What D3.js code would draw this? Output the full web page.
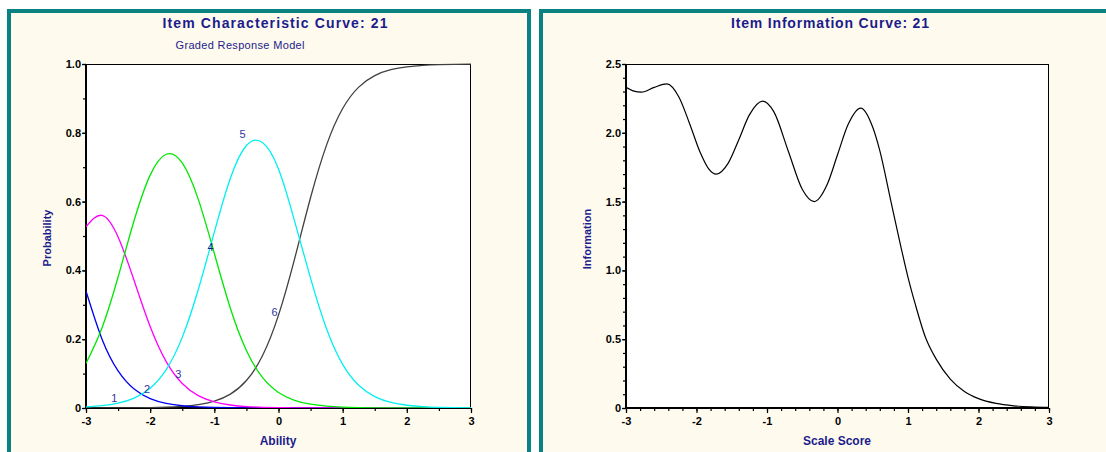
<!DOCTYPE html>
<html>
<head>
<meta charset="utf-8">
<script src="https://cdn.jsdelivr.net/npm/d3@7.9.0/dist/d3.min.js"></script>
<style>
  body { margin: 0; background: #fff; }
  svg { display: block; font-family: "Liberation Sans", Arial, sans-serif; }
</style>
</head>
<body>
<svg id="chart" width="1106" height="452"></svg>
<script>
// ── Data ──────────────────────────────────────────────────────────────────────

const abilityGrid = [-3, -2.75, -2.5, -2.25, -2, -1.75, -1.5, -1.25, -1, -0.75, -0.5, -0.25,
  0, 0.25, 0.5, 0.75, 1, 1.25, 1.5, 1.75, 2, 2.25, 2.5, 2.75, 3];

const probCat1 = [0.340, 0.200, 0.108, 0.0553, 0.0275, 0.0135, 0.0066, 0.0032, 0.0016, 0.0008,
  0.0004, 0.0002, 0.0001, 0, 0, 0, 0, 0, 0, 0, 0, 0, 0, 0, 0];
const probCat3 = [0.527, 0.560, 0.497, 0.3705, 0.2368, 0.1347, 0.0711, 0.0360, 0.0178, 0.0087,
  0.0042, 0.0021, 0.0010, 0.0005, 0.0002, 0.0001, 0.0001, 0, 0, 0, 0, 0, 0, 0, 0];
const probCat4 = [0.1295, 0.2333, 0.3807, 0.5449, 0.6770, 0.7377, 0.7123, 0.6065, 0.4495, 0.2899,
  0.1669, 0.0889, 0.0452, 0.0225, 0.0110, 0.0054, 0.0026, 0.0013, 0.0006, 0.0003, 0.0001, 0.0001, 0, 0, 0];
const probCat5 = [0.0034, 0.0069, 0.0142, 0.0288, 0.0576, 0.1118, 0.2053, 0.3445, 0.5112, 0.668,
  0.763, 0.772, 0.695, 0.5441, 0.3769, 0.2296, 0.1268, 0.0659, 0.0331, 0.0163, 0.0080, 0.0039, 0.0019, 0.0009, 0.0004];
const probCat6 = [0.0001, 0.0001, 0.0003, 0.0005, 0.0011, 0.0023, 0.0048, 0.0098, 0.0199, 0.0403,
  0.0798, 0.1519, 0.2699, 0.4329, 0.6118, 0.7649, 0.8705, 0.9328, 0.9663, 0.9834, 0.9919, 0.9961, 0.9981, 0.9991, 0.9996];

const labelText = ['1', '2', '3', '4', '5', '6'];
const labelAbility = [-2.56, -2.05, -1.56, -1.06, -0.56, -0.06];
const labelProb = [0.028, 0.055, 0.098, 0.469, 0.797, 0.280];

const infoScore = [-3, -2.9, -2.78, -2.6, -2.42, -2.25, -2.1, -1.95, -1.83, -1.72, -1.55, -1.4,
  -1.25, -1.06, -0.9, -0.7, -0.5, -0.33, -0.15, 0, 0.15, 0.33, 0.5, 0.6, 0.75, 0.9, 1, 1.1,
  1.25, 1.4, 1.6, 1.8, 2, 2.25, 2.5, 2.75, 3];
const infoValue = [2.33, 2.305, 2.295, 2.33, 2.355, 2.26, 2.07, 1.86, 1.74, 1.70, 1.78, 1.95,
  2.13, 2.23, 2.15, 1.87, 1.59, 1.50, 1.62, 1.84, 2.06, 2.18, 2.04, 1.87, 1.52, 1.17, 0.95, 0.76,
  0.51, 0.355, 0.21, 0.12, 0.068, 0.033, 0.016, 0.008, 0.004];

const xTicks = [-3, -2, -1, 0, 1, 2, 3];
const probTicks = [0, 0.2, 0.4, 0.6, 0.8, 1.0];
const infoTicks = [0, 0.5, 1.0, 1.5, 2.0, 2.5];

// ── Setup ─────────────────────────────────────────────────────────────────────

const svg = d3.select('#chart');
const teal = '#0a8282';
const cream = '#fefaee';
const navy = '#1c1c8c';

// panels
svg.append('rect').attr('x', 9).attr('y', 11).attr('width', 520).attr('height', 460)
  .attr('fill', cream).attr('stroke', teal).attr('stroke-width', 4);
svg.append('rect').attr('x', 541).attr('y', 11).attr('width', 620).attr('height', 460)
  .attr('fill', cream).attr('stroke', teal).attr('stroke-width', 4);

const fmtY = (d) => (d === 0 ? '0' : d.toFixed(1));
const fmtX = (d) => String(d);

function range(a, b, step) {
  const out = [];
  for (let v = a; v <= b + 1e-9; v += step) out.push(+v.toFixed(4));
  return out;
}

function drawFrame(x, y, yTicks, yMinorStep, xMinorStep, id) {
  const [x0, x1] = x.range();
  const [y0, y1] = y.range();

  svg.append('rect').attr('x', x0).attr('y', y1).attr('width', x1 - x0).attr('height', y0 - y1)
    .attr('fill', '#fff');

  svg.append('clipPath').attr('id', id)
    .append('rect').attr('x', x0).attr('y', y1 - 1).attr('width', x1 - x0).attr('height', y0 - y1 + 1);

  // minor ticks
  const yd = y.domain();
  svg.append('g').attr('transform', `translate(${x0},0)`)
    .call(d3.axisLeft(y).tickValues(range(yd[0], yd[1], yMinorStep)).tickSize(3).tickFormat(''))
    .call((g) => g.select('.domain').remove());
  svg.append('g').attr('transform', `translate(0,${y0})`)
    .call(d3.axisBottom(x).tickValues(range(-3, 3, xMinorStep)).tickSize(3).tickFormat(''))
    .call((g) => g.select('.domain').remove());

  // major ticks
  const gy = svg.append('g').attr('transform', `translate(${x0},0)`)
    .call(d3.axisLeft(y).tickValues(yTicks).tickSize(4).tickPadding(1).tickFormat(fmtY));
  gy.select('.domain').remove();
  const gx = svg.append('g').attr('transform', `translate(0,${y0})`)
    .call(d3.axisBottom(x).tickValues(xTicks).tickSize(5).tickPadding(4).tickFormat(fmtX));
  gx.select('.domain').remove();
  [gy, gx].forEach((g) => g.attr('font-family', null).attr('font-size', 11)
    .attr('font-weight', 'bold').selectAll('text').attr('fill', '#000'));
  svg.selectAll('.tick line').attr('stroke', '#000').attr('stroke-width', 1.2);

  // frame
  svg.append('line').attr('x1', x0).attr('x2', x1).attr('y1', y1 + 0.5).attr('y2', y1 + 0.5)
    .attr('stroke', '#000');
  svg.append('line').attr('x1', x1 - 0.5).attr('x2', x1 - 0.5).attr('y1', y1).attr('y2', y0)
    .attr('stroke', '#000');
  svg.append('line').attr('x1', x0).attr('x2', x0).attr('y1', y1).attr('y2', y0 + 1)
    .attr('stroke', '#000').attr('stroke-width', 2);
  svg.append('line').attr('x1', x0 - 1).attr('x2', x1).attr('y1', y0).attr('y2', y0)
    .attr('stroke', '#000').attr('stroke-width', 2);
}

// ── Left: item characteristic curves ─────────────────────────────────────────

const xL = d3.scaleLinear().domain([-3, 3]).range([86, 471]);
const yL = d3.scaleLinear().domain([0, 1]).range([408, 64]);
drawFrame(xL, yL, probTicks, 0.1, 0.5, 'clipL');

const icc = [
  { values: probCat6, color: '#404040' },
  { values: probCat1, color: '#0000f0' },
  { values: probCat3, color: '#ff00ff' },
  { values: probCat4, color: '#00e800' },
  { values: probCat5, color: '#00f0f0' },
];

const lineL = d3.line()
  .x((d, i) => xL(abilityGrid[i]))
  .y((d) => yL(d))
  .curve(d3.curveNatural);

svg.append('g').attr('clip-path', 'url(#clipL)')
  .selectAll('path').data(icc).join('path')
  .attr('d', (d) => lineL(d.values))
  .attr('fill', 'none')
  .attr('stroke', (d) => d.color)
  .attr('stroke-width', 1.3);

svg.append('g').selectAll('text').data(labelText).join('text')
  .attr('x', (d, i) => xL(labelAbility[i]))
  .attr('y', (d, i) => yL(labelProb[i]))
  .attr('text-anchor', 'middle')
  .attr('dominant-baseline', 'central')
  .attr('font-size', 11)
  .attr('fill', (d) => (d === '4' ? '#1a1a80' : '#3434a0'))
  .text((d) => d);

svg.append('text').attr('x', 275).attr('y', 28).attr('text-anchor', 'middle')
  .attr('font-size', 14).attr('font-weight', 'bold').attr('fill', navy)
  .attr('textLength', 225).attr('lengthAdjust', 'spacing')
  .text('Item Characteristic Curve: 21');
svg.append('text').attr('x', 240).attr('y', 49).attr('text-anchor', 'middle')
  .attr('font-size', 11).attr('fill', navy)
  .attr('textLength', 129).attr('lengthAdjust', 'spacing')
  .text('Graded Response Model');
svg.append('text').attr('x', 278).attr('y', 445).attr('text-anchor', 'middle')
  .attr('font-size', 12).attr('font-weight', 'bold').attr('fill', navy)
  .text('Ability');
svg.append('text').attr('transform', 'translate(47,238) rotate(-90)')
  .attr('text-anchor', 'middle').attr('dominant-baseline', 'central')
  .attr('font-size', 11).attr('font-weight', 'bold').attr('fill', navy)
  .text('Probability');

// ── Right: item information curve ────────────────────────────────────────────

const xR = d3.scaleLinear().domain([-3, 3]).range([626, 1049]);
const yR = d3.scaleLinear().domain([0, 2.5]).range([408, 64]);
drawFrame(xR, yR, infoTicks, 0.1, 0.2, 'clipR');

const lineR = d3.line()
  .x((d, i) => xR(infoScore[i]))
  .y((d) => yR(d))
  .curve(d3.curveMonotoneX);

svg.append('path').attr('clip-path', 'url(#clipR)')
  .attr('d', lineR(infoValue))
  .attr('fill', 'none').attr('stroke', '#000').attr('stroke-width', 1.2);

svg.append('text').attr('x', 830).attr('y', 28).attr('text-anchor', 'middle')
  .attr('font-size', 14).attr('font-weight', 'bold').attr('fill', navy)
  .attr('textLength', 198).attr('lengthAdjust', 'spacing')
  .text('Item Information Curve: 21');
svg.append('text').attr('x', 837).attr('y', 445).attr('text-anchor', 'middle')
  .attr('font-size', 12).attr('font-weight', 'bold').attr('fill', navy)
  .text('Scale Score');
svg.append('text').attr('transform', 'translate(587,239) rotate(-90)')
  .attr('text-anchor', 'middle').attr('dominant-baseline', 'central')
  .attr('font-size', 11).attr('font-weight', 'bold').attr('fill', navy)
  .text('Information');
</script>
</body>
</html>
